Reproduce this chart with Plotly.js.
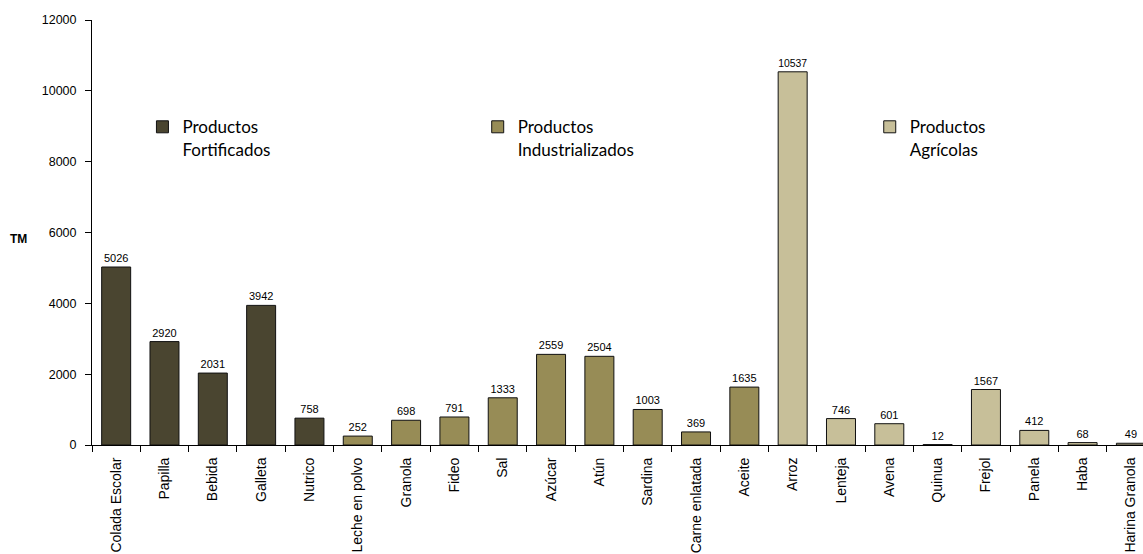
<!DOCTYPE html>
<html><head><meta charset="utf-8">
<script src="https://cdn.plot.ly/plotly-3.0.1.min.js"></script>
<style>html,body{margin:0;padding:0;background:#fff}#chart{width:1143px;height:554px}</style>
</head><body><div id="chart"></div>
<script>
const fortCats = ["Colada Escolar","Papilla","Bebida","Galleta","Nutrico"];
const fortVals = [5026,2920,2031,3942,758];
const indCats = ["Leche en polvo","Granola","Fideo","Sal","Azúcar","Atún","Sardina","Carne enlatada","Aceite"];
const indVals = [252,698,791,1333,2559,2504,1003,369,1635];
const agrCats = ["Arroz","Lenteja","Avena","Quinua","Frejol","Panela","Haba","Harina Granola"];
const agrVals = [10537,746,601,12,1567,412,68,49];
const yTicks = [0,2000,4000,6000,8000,10000,12000];

const allCats = fortCats.concat(indCats, agrCats);
const ARIAL = "Liberation Sans, Arial, sans-serif";
const lblFont = {family:ARIAL, size:11, color:"#000"};
function tr(name, cats, vals, color, leg){
  return {type:"bar", name:name, x:cats, y:vals, text:vals.map(String), textposition:"outside",
    textfont:lblFont, cliponaxis:false, width:0.6,
    marker:{color:color, line:{color:"#111", width:1}}, legend:leg, hoverinfo:"x+y"};
}
const data = [
  tr("Productos<br>Fortificados", fortCats, fortVals, "#4a4530", "legend"),
  tr("Productos<br>Industrializados", indCats, indVals, "#978c56", "legend2"),
  tr("Productos<br>Agrícolas", agrCats, agrVals, "#c7bf99", "legend3")
];
const legFont = {family:"Lato, Open Sans, sans-serif", size:17, color:"#000"};
function leg(x){ return {x:x, y:0.79, xanchor:"left", yanchor:"top", font:legFont, bgcolor:"rgba(0,0,0,0)", valign:"top", itemwidth:30, tracegroupgap:0}; }
const layout = {
  width:1143, height:554,
  font:{family:ARIAL, color:"#000"},
  margin:{l:92, r:0, t:20, b:109, pad:0},
  paper_bgcolor:"#fff", plot_bgcolor:"#fff",
  barmode:"overlay",
  showlegend:true,
  legend:leg(0.048), legend2:leg(0.367), legend3:leg(0.74),
  xaxis:{type:"category", categoryorder:"array", categoryarray:allCats, range:[-0.5,21.25],
    tickangle:-90, tickson:"boundaries", ticks:"outside", ticklen:6, tickcolor:"#000", ticklabelstandoff:6,
    showline:true, linecolor:"#000", linewidth:1, showgrid:false, zeroline:false,
    tickfont:{family:ARIAL, size:14, color:"#000"}},
  yaxis:{range:[0,12000], tickvals:yTicks, ticktext:yTicks.map(String), ticks:"outside", ticklen:6, tickcolor:"#000", ticklabelstandoff:6,
    showline:true, linecolor:"#000", linewidth:1, showgrid:false, zeroline:false,
    tickfont:{family:ARIAL, size:12.5, color:"#000"}},
  annotations:[{text:"<b>TM</b>", xref:"paper", yref:"paper", x:-0.07, y:0.485, xanchor:"center", yanchor:"middle", showarrow:false,
    font:{family:ARIAL, size:12, color:"#000"}}]
};
Plotly.newPlot("chart", data, layout, {staticPlot:true});
</script></body></html>
